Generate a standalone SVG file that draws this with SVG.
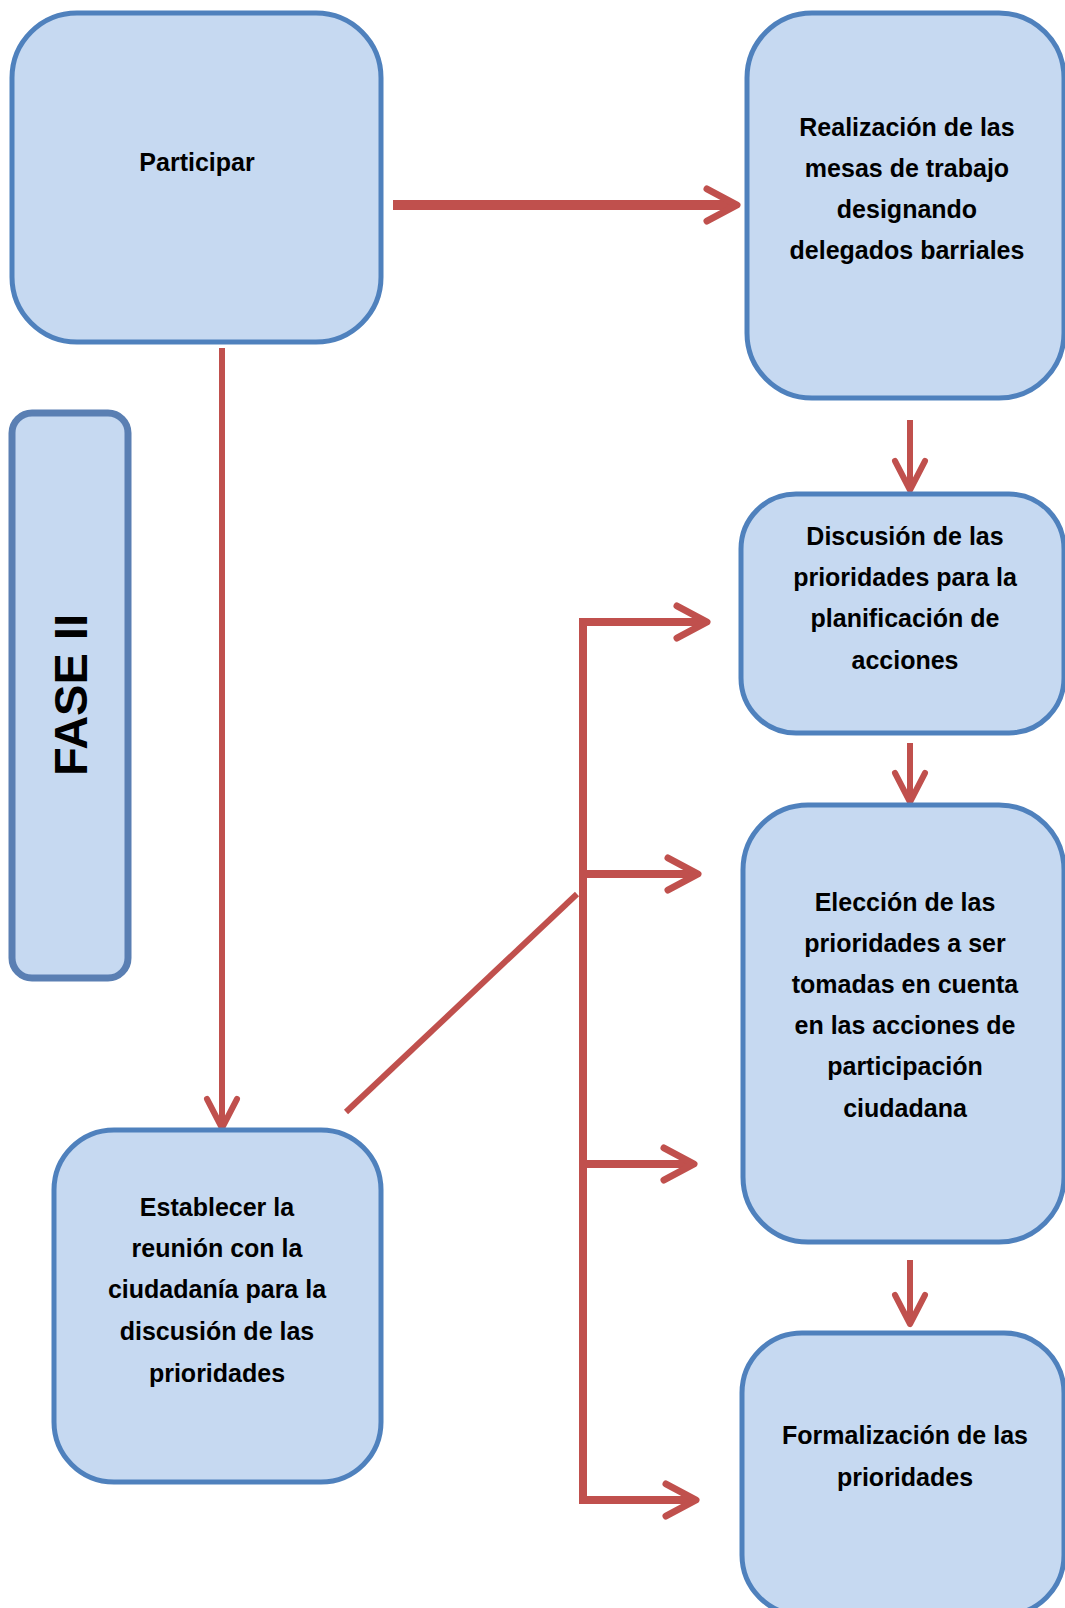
<svg xmlns="http://www.w3.org/2000/svg" width="1065" height="1608" viewBox="0 0 1065 1608">
  <style>
    .box { fill: #c6d9f1; stroke: #4f81bd; stroke-width: 5; }
    .fase { fill: #c6d9f1; stroke: #5a7fb3; stroke-width: 7; }
    .lbl { font-family: "Liberation Sans", Arial, sans-serif; font-weight: bold; font-size: 25px; fill: #000; text-anchor: middle; }
    .big { font-family: "Liberation Sans", Arial, sans-serif; font-weight: bold; font-size: 47px; fill: #000; text-anchor: middle; }
    .con { fill: none; stroke: #c0504d; stroke-linecap: butt; }
    .thick { stroke-width: 10; }
    .mid { stroke-width: 8; }
    .thin { stroke-width: 6; }
  </style>
  <defs>
    <marker id="ah" markerUnits="userSpaceOnUse" orient="auto" markerWidth="60" markerHeight="60" refX="0" refY="0" style="overflow:visible">
      <path d="M-26,-16 L4,0 L-26,16" fill="none" stroke="#c0504d" stroke-width="7" stroke-linecap="round" stroke-linejoin="round"/>
    </marker>
    <marker id="ahs" markerUnits="userSpaceOnUse" orient="auto" markerWidth="60" markerHeight="60" refX="0" refY="0" style="overflow:visible">
      <path d="M-26,-15 L3,0 L-26,15" fill="none" stroke="#c0504d" stroke-width="6" stroke-linecap="round" stroke-linejoin="round"/>
    </marker>
  </defs>

  <g id="connectors">
    <line class="con thick" x1="393" y1="205" x2="733" y2="205" marker-end="url(#ah)"/>
    <line class="con thin" x1="222" y1="348" x2="222" y2="1125" marker-end="url(#ahs)"/>
    <line class="con thin" x1="910" y1="420" x2="910" y2="487" marker-end="url(#ahs)"/>
    <line class="con thin" x1="910" y1="743" x2="910" y2="799" marker-end="url(#ahs)"/>
    <line class="con thin" x1="910" y1="1260" x2="910" y2="1321" marker-end="url(#ahs)"/>
    <line class="con thin" x1="346" y1="1112" x2="577" y2="894"/>
    <line class="con mid" x1="583" y1="618" x2="583" y2="1504"/>
    <line class="con mid" x1="579" y1="622" x2="703" y2="622" marker-end="url(#ah)"/>
    <line class="con mid" x1="579" y1="874" x2="694" y2="874" marker-end="url(#ah)"/>
    <line class="con mid" x1="579" y1="1164" x2="690" y2="1164" marker-end="url(#ah)"/>
    <line class="con mid" x1="579" y1="1500" x2="692" y2="1500" marker-end="url(#ah)"/>
  </g>

  <g id="node-participar">
    <rect class="box" x="12" y="13" width="369" height="329" rx="65" ry="65"/>
    <text class="lbl" x="197" y="171">Participar</text>
  </g>

  <g id="node-realizacion">
    <rect class="box" x="747" y="13" width="317" height="385" rx="65" ry="65"/>
    <text class="lbl" x="907" y="136">Realización de las</text>
    <text class="lbl" x="907" y="177">mesas de trabajo</text>
    <text class="lbl" x="907" y="218">designando</text>
    <text class="lbl" x="907" y="259">delegados barriales</text>
  </g>

  <g id="node-fase">
    <rect class="fase" x="12" y="413" width="116" height="565" rx="20" ry="20"/>
    <text class="big" transform="translate(87,695) rotate(-90)" x="0" y="0">FASE II</text>
  </g>

  <g id="node-discusion">
    <rect class="box" x="741" y="494" width="323" height="239" rx="55" ry="55"/>
    <text class="lbl" x="905" y="545">Discusión de las</text>
    <text class="lbl" x="905" y="586">prioridades para la</text>
    <text class="lbl" x="905" y="627">planificación de</text>
    <text class="lbl" x="905" y="669">acciones</text>
  </g>

  <g id="node-eleccion">
    <rect class="box" x="743" y="805" width="321" height="437" rx="65" ry="65"/>
    <text class="lbl" x="905" y="911">Elección de las</text>
    <text class="lbl" x="905" y="952">prioridades a ser</text>
    <text class="lbl" x="905" y="993">tomadas en cuenta</text>
    <text class="lbl" x="905" y="1034">en las acciones de</text>
    <text class="lbl" x="905" y="1075">participación</text>
    <text class="lbl" x="905" y="1117">ciudadana</text>
  </g>

  <g id="node-formalizacion">
    <rect class="box" x="742" y="1333" width="322" height="282" rx="60" ry="60"/>
    <text class="lbl" x="905" y="1444">Formalización de las</text>
    <text class="lbl" x="905" y="1486">prioridades</text>
  </g>

  <g id="node-establecer">
    <rect class="box" x="54" y="1130" width="327" height="352" rx="60" ry="60"/>
    <text class="lbl" x="217" y="1216">Establecer la</text>
    <text class="lbl" x="217" y="1257">reunión con la</text>
    <text class="lbl" x="217" y="1298">ciudadanía para la</text>
    <text class="lbl" x="217" y="1340">discusión de las</text>
    <text class="lbl" x="217" y="1382">prioridades</text>
  </g>
</svg>
